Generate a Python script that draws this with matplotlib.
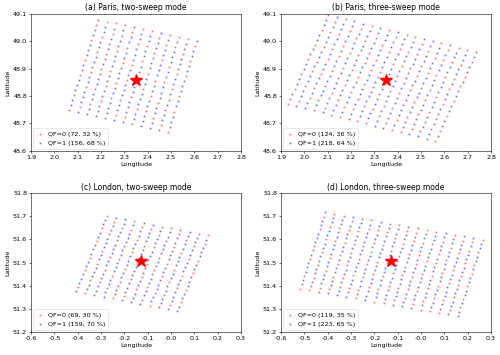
import numpy as np
import matplotlib
matplotlib.use("Agg")
import matplotlib.pyplot as plt

# Scan grid geometry: bottom of first scan line,
# top of first scan line, bottom of last scan line (lon, lat).
titles = [
    "(a) Paris, two-sweep mode",
    "(b) Paris, three-sweep mode",
    "(c) London, two-sweep mode",
    "(d) London, three-sweep mode",
]
first_bottom = [(2.063, 48.748), (1.929, 48.772), (-0.407, 51.376), (-0.518, 51.387)]
first_top = [(2.186, 49.079), (2.103, 49.096), (-0.275, 51.702), (-0.411, 51.717)]
last_bottom = [(2.487, 48.670), (2.562, 48.637), (0.027, 51.291), (0.157, 51.269)]
n_lines = [12, 18, 12, 18]
n_points = 19

centre = [(2.352, 48.857), (2.352, 48.857), (-0.1276, 51.507), (-0.1276, 51.507)]

# Quality flags per scan line, bottom to top ("0" = QF 0, "1" = QF 1)
s1 = "0110111011011101101"
s2 = "1011101101110110110"
s3 = "1101101110110111010"
s4 = "1110110110111011010"
s5 = "0111011011101101101"
s6 = "1011011101101110110"
t1 = "0110110110110110110"
t2 = "1011011010110110101"
t3 = "1101011011010110110"
t4 = "0101101101101011011"
u1 = "1110110110111011011"
u2 = "1011101110111011101"
qf_flags = [
    [s1, s2, s3, s4, s5, s6, s2, s1, s4, s3, s6, s5],
    [t1, t2, t3, t4, t2, t1, t4, t3, s1, t1, t3, t2, t4, t1, t2, s2, t3, t4],
    [s2, s1, u1, s3, s5, u2, s4, s6, s1, u1, s2, s3],
    [s1, t1, s2, t2, t3, s3, t4, s4, t1, s5, t2, t3, s6, t4, t1, s1, t2, t3],
]

xlims = [(1.9, 2.8), (1.9, 2.8), (-0.6, 0.3), (-0.6, 0.3)]
ylims = [(48.6, 49.1), (48.6, 49.1), (51.2, 51.8), (51.2, 51.8)]

fig = plt.figure(figsize=(5.0, 3.55), dpi=100)
boxes = [
    [0.062, 0.575, 0.420, 0.386],
    [0.562, 0.575, 0.420, 0.386],
    [0.062, 0.065, 0.420, 0.391],
    [0.562, 0.065, 0.420, 0.391],
]

for i in range(4):
    ax = fig.add_axes(boxes[i])
    b0 = np.array(first_bottom[i])
    along = np.array(first_top[i]) - b0
    across = (np.array(last_bottom[i]) - b0) / (n_lines[i] - 1)

    lon, lat, qf = [], [], []
    for j in range(n_lines[i]):
        for k in range(n_points):
            p = b0 + j * across + k / (n_points - 1) * along
            lon.append(p[0])
            lat.append(p[1])
            qf.append(int(qf_flags[i][j][k]))
    lon = np.array(lon)
    lat = np.array(lat)
    qf = np.array(qf)
    total = len(qf)
    n0 = int((qf == 0).sum())
    n1 = int((qf == 1).sum())

    ax.plot(lon[qf == 0], lat[qf == 0], "s", color="red", markersize=1.2,
            markeredgewidth=0, alpha=0.6, ls="none",
            label="QF=0 ({n}, {p:.0f} %)".format(n=n0, p=100 * n0 / total))
    ax.plot(lon[qf == 1], lat[qf == 1], "s", color="blue", markersize=1.2,
            markeredgewidth=0, alpha=0.6, ls="none",
            label="QF=1 ({n}, {p:.0f} %)".format(n=n1, p=100 * n1 / total))
    ax.plot(centre[i][0], centre[i][1], "*", color="red", markersize=9)

    ax.set_xlim(*xlims[i])
    ax.set_ylim(*ylims[i])
    ax.set_xticks(np.arange(xlims[i][0], xlims[i][1] + 0.01, 0.1))
    ax.set_yticks(np.arange(ylims[i][0], ylims[i][1] + 0.01, 0.1))
    ax.xaxis.set_major_formatter(matplotlib.ticker.FormatStrFormatter("%.1f"))
    ax.yaxis.set_major_formatter(matplotlib.ticker.FormatStrFormatter("%.1f"))
    ax.tick_params(labelsize=4.6, length=1.6, width=0.4, pad=1.2)
    for sp in ax.spines.values():
        sp.set_linewidth(0.4)

    ax.set_title(titles[i], fontsize=5.5, pad=2.5)
    ax.set_xlabel("Longitude", fontsize=4.6, labelpad=1.5)
    ax.set_ylabel("Latitude", fontsize=4.6, labelpad=1.5)

    leg = ax.legend(loc="lower left", fontsize=4.6, markerscale=1.0,
                    handlelength=1.2, handletextpad=0.6, borderpad=0.5,
                    labelspacing=0.5, borderaxespad=0.3)
    leg.get_frame().set_linewidth(0.4)

plt.savefig("out.png", dpi=100)
